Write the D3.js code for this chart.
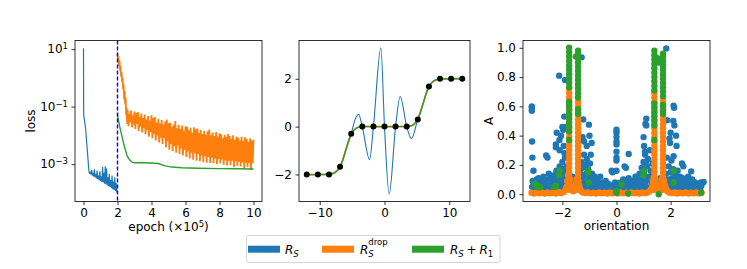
<!DOCTYPE html>
<html><head><meta charset="utf-8">
<script src="https://cdn.jsdelivr.net/npm/d3@7"></script>
<style>body{margin:0;background:#fff}svg{display:block}text{font-family:"DejaVu Sans",sans-serif}</style>
</head><body><svg id="c" width="747" height="269"></svg>
<script>
// ---------- data: panel 1 (loss vs epoch, x in 1e5) ----------
const blueLoss = [[0,10.7],[0.01,0.05],[0.04,0.04],[0.13,0.016],[0.32,5.6e-4],[0.36,4.8e-4],[0.40,5.2e-4],[0.44,4.4e-4],[0.48,6.3e-4],[0.52,4.0e-4],[0.56,5.0e-4],[0.60,3.7e-4],[0.64,6.6e-4],[0.68,3.5e-4],[0.72,4.5e-4],[0.76,3.2e-4],[0.80,6.0e-4],[0.84,3.0e-4],[0.88,4.0e-4],[0.92,2.75e-4],[0.96,5.6e-4],[1.00,2.6e-4],[1.04,3.8e-4],[1.08,2.4e-4],[1.12,7.9e-4],[1.16,2.3e-4],[1.20,5.0e-4],[1.24,2.1e-4],[1.28,8.5e-4],[1.32,2.0e-4],[1.36,7.1e-4],[1.40,1.8e-4],[1.44,3.5e-4],[1.48,1.7e-4],[1.52,4.5e-4],[1.56,1.6e-4],[1.60,2.8e-4],[1.64,1.45e-4],[1.68,4.0e-4],[1.72,1.35e-4],[1.76,2.5e-4],[1.80,1.26e-4],[1.84,3.5e-4],[1.88,1.17e-4],[1.92,2.2e-4],[1.96,1.1e-4],[2.0,1.05e-4]];
// orange: early descent (epoch, loss) then a noisy band sampled every 0.05 from epoch 2.6 (log10 of loss)
const orangeLossEarly = [[2.0,7.2],[2.03,3.5],[2.06,5.5],[2.09,2.6],[2.12,4.0],[2.15,1.8],[2.18,2.6],[2.21,1.1],[2.24,1.6],[2.27,0.7],[2.3,1.0],[2.33,0.4],[2.36,0.6],[2.39,0.18],[2.42,0.35],[2.45,0.12],[2.48,0.2],[2.51,0.05],[2.54,0.09],[2.57,0.025]];
const orangeBandStart = 2.6, orangeBandStep = 0.05;
const orangeBandLog10 = [
-1.12,-1.68,-1.25,-1.55,-1.14,-1.72,-1.30,-1.62,-1.17,-1.78,
-1.22,-1.60,-1.19,-1.85,-1.35,-1.70,-1.24,-1.90,-1.40,-1.75,
-1.28,-1.96,-1.45,-1.80,-1.33,-2.05,-1.50,-1.88,-1.30,-2.10,
-1.40,-1.95,-1.36,-2.18,-1.55,-2.00,-1.42,-2.25,-1.60,-2.08,
-1.47,-2.30,-1.62,-2.10,-1.52,-2.42,-1.45,-2.20,-1.58,-2.50,
-1.56,-2.30,-1.70,-2.55,-1.62,-2.38,-1.50,-2.60,-1.75,-2.35,
-1.63,-2.65,-1.78,-2.45,-1.66,-2.70,-1.85,-2.50,-1.68,-2.75,
-1.70,-2.55,-1.82,-2.80,-1.74,-2.60,-1.90,-2.85,-1.72,-2.62,
-1.80,-2.88,-1.76,-2.65,-1.92,-2.90,-1.81,-2.70,-1.95,-2.93,
-1.84,-2.72,-1.98,-2.95,-1.86,-2.75,-1.80,-2.96,-2.00,-2.78,
-1.90,-2.97,-2.02,-2.80,-1.88,-3.00,-2.05,-2.82,-1.93,-2.98,
-1.96,-2.84,-2.10,-3.02,-1.98,-2.86,-2.06,-3.05,-1.95,-2.88,
-2.02,-3.04,-2.12,-2.88,-2.00,-3.10,-2.15,-2.90,-2.04,-3.06,
-2.08,-2.92,-2.18,-3.08,-2.05,-2.94,-2.20,-3.15,-2.07,-2.95,
-2.12,-3.10,-2.22,-2.96,-2.10,-3.20,-2.18,-2.98,-2.15];
const greenLoss = [[2.0,0.06],[2.01,0.046],[2.15,0.018],[2.38,0.0047],[2.57,0.0019],[2.72,0.0014],[2.87,0.00117],[3.0,0.00112],[3.5,0.00111],[4.0,0.0011],[4.4,0.00105],[4.8,0.00087],[5.2,0.00079],[5.8,0.00075],[6.75,0.00072],[8.0,0.0007],[9.0,0.00069],[10.0,0.00068]];
const switchEpoch = 2;
const p1XTicks = [0,2,4,6,8,10];
const p1YTicks = [10,0.1,0.001];
const p1YTickExp = ["1","\u22121","\u22123"];

// ---------- data: panel 2 (fits) ----------
const dotsX = [-12,-10.29,-8.57,-6.86,-5.14,-3.43,-1.71,0,1.71,3.43,5.14,6.86,8.57,10.29,12];
const dotsY = [-2,-2,-2,-1.68,-0.3,0,0,0,0,0,0.3,1.68,2,2,2];
const smoothX = [-12,-11,-10.29,-9.5,-8.57,-8,-7.5,-6.86,-6.5,-6,-5.5,-5.14,-4.7,-4.3,-3.9,-3.43,-2.5,-1.71,0,1.71,2.5,3.43,3.9,4.3,4.7,5.14,5.5,6,6.5,6.86,7.5,8,8.57,9.5,10.29,11,12];
const orangeFitY = [-2.01,-2.01,-2.01,-2.0,-1.99,-1.95,-1.87,-1.67,-1.44,-1.0,-0.56,-0.31,-0.15,-0.06,-0.02,0,0.01,0,0,0,0.01,0,0.02,0.06,0.15,0.31,0.56,1.0,1.44,1.67,1.87,1.95,1.99,2.0,2.01,2.01,2.01];
const greenFitY = [-2,-2,-2,-2,-2,-1.97,-1.9,-1.68,-1.45,-1.0,-0.55,-0.31,-0.14,-0.05,-0.015,0,0,0,0,0,0,0,0.015,0.05,0.14,0.31,0.55,1.0,1.45,1.68,1.9,1.97,2,2,2,2,2];
const blueFitX = [-12,-10.29,-8.57,-7.7,-6.86,-6.0,-5.14,-4.6,-4.0,-3.43,-2.3,-1.71,-0.56,0,0.72,1.71,2.42,3.43,4.15,5.14,6.0,6.86,7.7,8.57,10.29,12];
const blueFitY = [-2,-2,-2,-1.92,-1.68,-1.0,-0.31,0.25,0.51,0,-1.38,0,3.29,0,-2.82,0,1.26,0,-0.5,0.31,1.0,1.68,1.92,2,2,2];
const p2XTicks = [-10,0,10];
const p2YTicks = [-2,0,2];

// ---------- data: panel 3 (A vs orientation) ----------
const blueScatter = [
[-3.12,0.05],[-3.05,0.08],[-3.0,0.04],[-2.95,0.10],[-2.9,0.06],[-2.85,0.03],[-2.8,0.09],[-2.75,0.05],[-2.7,0.12],[-2.65,0.07],[-2.6,0.04],[-2.55,0.10],[-2.5,0.14],[-2.45,0.06],[-2.4,0.11],[-2.35,0.08],[-2.3,0.13],[-2.27,0.04],[-2.22,0.16],[-2.2,0.09],[-2.15,0.12],[-2.1,0.19],[-2.07,0.06],[-2.05,0.14],[-2.0,0.22],[-1.98,0.10],[-1.95,0.17],[-1.92,0.08],[-1.9,0.25],[-1.88,0.13],[-1.85,0.19],[-1.82,0.05],[-1.7,0.08],[-1.65,0.05],[-1.6,0.10],[-1.55,0.06],[-1.5,0.09],[-1.38,0.07],[-1.35,0.15],[-1.32,0.10],[-1.3,0.22],[-1.27,0.05],[-1.25,0.18],[-1.22,0.12],[-1.2,0.27],[-1.17,0.08],[-1.15,0.20],[-1.12,0.14],[-1.1,0.24],[-1.07,0.06],[-1.05,0.17],[-1.0,0.11],[-0.98,0.21],[-0.95,0.07],[-0.9,0.14],[-0.85,0.09],[-0.8,0.12],[-0.75,0.05],[-0.7,0.10],[-0.65,0.07],[-0.6,0.12],[-0.55,0.04],[-0.5,0.08],[-0.45,0.05],[-0.4,0.09],[-0.35,0.04],[-0.3,0.07],[-0.25,0.03],[-0.2,0.06],[-0.1,0.05],[-0.05,0.08],[0.05,0.06],[0.1,0.04],[0.15,0.08],[0.2,0.05],[0.25,0.10],[0.3,0.06],[0.35,0.09],[0.4,0.04],[0.45,0.11],[0.5,0.07],[0.55,0.05],[0.6,0.09],[0.65,0.06],[0.7,0.12],[0.75,0.08],[0.8,0.05],[0.85,0.14],[0.9,0.10],[0.93,0.18],[0.97,0.07],[1.0,0.22],[1.03,0.13],[1.06,0.27],[1.1,0.09],[1.13,0.19],[1.16,0.24],[1.2,0.12],[1.23,0.30],[1.26,0.16],[1.3,0.08],[1.33,0.21],[1.5,0.06],[1.55,0.09],[1.6,0.05],[1.65,0.08],[1.8,0.07],[1.83,0.14],[1.86,0.25],[1.9,0.10],[1.93,0.19],[1.96,0.06],[2.0,0.15],[2.03,0.23],[2.06,0.11],[2.1,0.17],[2.14,0.07],[2.18,0.13],[2.22,0.09],[2.26,0.16],[2.3,0.05],[2.35,0.12],[2.4,0.08],[2.45,0.11],[2.5,0.04],[2.55,0.09],[2.6,0.06],[2.65,0.12],[2.7,0.07],[2.75,0.04],[2.8,0.10],[2.85,0.06],[2.9,0.08],[2.95,0.04],[3.0,0.07],[3.05,0.05],[3.1,0.03],[3.14,0.06],
[-3.1,0.09],[-2.98,0.07],[-2.88,0.11],[-2.78,0.03],[-2.68,0.09],[-2.58,0.07],[-2.48,0.04],[-2.38,0.05],[-2.28,0.10],[-2.18,0.05],[-2.12,0.09],[-2.02,0.05],[-1.96,0.13],[-1.88,0.04],[-1.62,0.12],[-1.52,0.03],[-1.34,0.04],[-1.24,0.08],[-1.14,0.04],[-1.04,0.09],[-0.94,0.04],[-0.84,0.06],[-0.72,0.03],[-0.62,0.05],[-0.42,0.07],[-0.15,0.03],[0.0,0.03],[0.12,0.07],[0.32,0.03],[0.52,0.04],[0.72,0.03],[0.82,0.09],[0.95,0.04],[1.05,0.06],[1.15,0.04],[1.25,0.05],[1.35,0.12],[1.62,0.11],[1.88,0.04],[1.98,0.09],[2.08,0.04],[2.2,0.05],[2.32,0.08],[2.42,0.04],[2.52,0.07],[2.62,0.03],[2.72,0.09],[2.82,0.03],[2.92,0.06],[3.02,0.03],[3.12,0.08],
[-3.13,0.60],[-3.13,0.59],[-3.13,0.57],[-3.12,0.36],[-3.11,0.25],[-3.07,0.16],[-2.6,0.265],[-2.55,0.25],[-2.24,0.32],[-2.24,0.34],[-2.21,0.42],[-2.12,0.81],[-2.11,0.37],[-2.1,0.30],[-2.05,0.40],[-2.0,0.46],[-1.97,0.44],[-1.93,0.53],[-1.9,0.78],[-1.88,0.46],[-1.95,0.33],[-1.92,0.28],[-1.29,0.935],[-1.25,0.39],[-1.23,0.51],[-1.2,0.36],[-1.1,0.33],[-1.02,0.475],[-1.0,0.40],[-0.95,0.27],[-0.92,0.35],[-0.18,0.16],[0.0,0.44],[0.0,0.42],[0.0,0.39],[0.0,0.36],[0.0,0.34],[0.0,0.29],[0.0,0.25],[0.0,0.23],[0.0,0.16],[0.45,0.275],[0.3,0.19],[0.35,0.18],[1.0,0.39],[1.02,0.33],[1.07,0.48],[1.1,0.516],[1.1,0.47],[1.05,0.29],[1.08,0.22],[1.84,0.996],[1.87,0.505],[1.98,0.35],[2.0,0.42],[1.96,0.38],[2.11,0.604],[2.13,0.59],[2.14,0.47],[2.1,0.50],[2.2,0.40],[2.22,0.33],[2.11,0.26],[2.42,0.21],[2.47,0.19],[2.76,0.156],[3.22,0.083],[-0.15,0.15]];
const orangeScatter = [
[-3.14,0.01],[-3.05,0.005],[-2.95,0.012],[-2.85,0.006],[-2.75,0.01],[-2.65,0.004],[-2.55,0.011],[-2.45,0.006],[-2.35,0.01],[-2.25,0.005],[-2.15,0.013],[-2.05,0.007],[-1.95,0.015],[-1.88,0.03],[-1.85,0.05],[-1.82,0.09],[-1.79,0.13],[-1.72,0.1],[-1.68,0.06],[-1.64,0.035],[-1.6,0.02],[-1.55,0.04],[-1.51,0.07],[-1.48,0.1],[-1.41,0.09],[-1.38,0.06],[-1.34,0.035],[-1.3,0.02],[-1.25,0.012],[-1.15,0.008],[-1.05,0.012],[-0.95,0.006],[-0.85,0.01],[-0.75,0.005],[-0.65,0.011],[-0.55,0.006],[-0.45,0.01],[-0.35,0.005],[-0.25,0.012],[-0.15,0.006],[-0.05,0.01],[0.05,0.005],[0.15,0.011],[0.25,0.006],[0.35,0.01],[0.45,0.005],[0.55,0.012],[0.65,0.006],[0.75,0.01],[0.85,0.005],[0.95,0.011],[1.05,0.007],[1.15,0.012],[1.22,0.02],[1.27,0.03],[1.31,0.05],[1.34,0.08],[1.37,0.11],[1.44,0.1],[1.48,0.07],[1.52,0.04],[1.56,0.025],[1.6,0.03],[1.64,0.06],[1.67,0.1],[1.76,0.09],[1.8,0.06],[1.84,0.035],[1.88,0.02],[1.95,0.012],[2.05,0.007],[2.15,0.011],[2.25,0.005],[2.35,0.01],[2.45,0.006],[2.55,0.012],[2.65,0.005],[2.75,0.01],[2.85,0.006],[2.95,0.011],[3.05,0.005],[3.14,0.01]];
const orangeColTheta = [-1.75,-1.42,1.40,1.72];
const orangeColA = [
[0.03,0.06,0.09,0.12,0.15,0.18,0.21,0.24,0.27,0.30,0.33,0.36,0.39,0.42,0.45,0.48,0.51,0.54,0.57,0.60,0.63,0.66,0.69,0.72],
[0.03,0.06,0.09,0.12,0.15,0.18,0.21,0.24,0.27,0.30,0.33,0.36,0.39,0.42,0.45,0.48,0.51,0.54,0.57,0.60,0.63],
[0.03,0.06,0.09,0.12,0.15,0.18,0.21,0.24,0.27,0.30,0.33,0.36,0.39,0.42,0.45,0.48,0.51,0.54,0.57,0.60,0.63,0.66,0.69],
[0.03,0.06,0.09,0.12,0.15,0.18,0.21,0.24,0.27,0.30,0.33,0.36,0.39,0.42,0.45,0.48,0.51,0.54,0.57,0.60,0.63,0.66]];
const greenColTheta = [-1.75,-1.42,1.40,1.72];
const greenColA = [
[0.37,0.43,0.46,0.49,0.52,0.55,0.58,0.61,0.63,0.73,0.76,0.79,0.82,0.85,0.88,0.91,0.94,0.97,1.0],
[0.55,0.58,0.66,0.69,0.72,0.75,0.78,0.81,0.84,0.87,0.90,0.93,0.96,0.98],
[0.37,0.47,0.50,0.53,0.56,0.59,0.62,0.71,0.74,0.77,0.80,0.83,0.86,0.89,0.92,0.95,0.98],
[0.55,0.58,0.61,0.67,0.70,0.73,0.76,0.79,0.82,0.85,0.88,0.91,0.94,0.96]];
const greenScatter = [[-3.01,0.07],[-2.95,0.06],[-2.87,0.045],[-2.83,0.05],[-2.3,0.05],[-2.24,0.06],[-2.12,0.13],[-2.1,0.16],[-1.05,0.15],[-1.04,0.16],[-1.03,0.08],[0.0,0.01],[0.0,0.02],[0.18,0.07],[0.43,0.005],[1.0,0.13],[1.02,0.16],[1.56,0.0],[2.11,0.16],[2.11,0.08],[3.13,0.01],[-1.5,0.94],[1.5,0.93],[1.56,0.9],[1.62,0.92]];
const p3XTicks = [-2,0,2];
const p3YTicks = [0,0.2,0.4,0.6,0.8,1.0];

const C = {blue:"#1f77b4", orange:"#ff7f0e", green:"#2ca02c"};

// ---------- layout ----------
const svg = d3.select("#c");
const pTop = 40.5, pBot = 201.5;
const x1 = d3.scaleLinear([-0.5,10.5],[75,262]);
const y1 = d3.scaleLog([Math.pow(10,-4.3), Math.pow(10,1.3)],[pBot,pTop]);
const x2 = d3.scaleLinear([-13.2,13.2],[299,470]);
const y2 = d3.scaleLinear([-3.13,3.6],[pBot,pTop]);
const x3 = d3.scaleLinear([-3.456,3.456],[523,710]);
const y3 = d3.scaleLinear([-0.05,1.05],[pBot,pTop]);
const minus = s => String(s).replace("-", "\u2212");

function clip(id, xs){
  svg.append("clipPath").attr("id",id).append("rect")
    .attr("x",xs.range()[0]).attr("y",pTop).attr("width",xs.range()[1]-xs.range()[0]).attr("height",pBot-pTop);
}
clip("c1",x1); clip("c2",x2); clip("c3",x3);

function axes(xs, ys, xt, yt, xf, yf){
  const gx = svg.append("g").attr("transform",`translate(0,${pBot})`)
    .call(d3.axisBottom(xs).tickValues(xt).tickSize(3.5).tickPadding(3.5).tickFormat(xf));
  const gy = svg.append("g").attr("transform",`translate(${xs.range()[0]},0)`)
    .call(d3.axisLeft(ys).tickValues(yt).tickSize(3.5).tickPadding(3.5).tickFormat(yf));
  [gx,gy].forEach(g=>{
    g.select(".domain").remove();
    g.attr("font-family","DejaVu Sans").attr("font-size",12);
    g.selectAll("line").attr("stroke","#000").attr("stroke-width",0.8);
    g.selectAll("text").attr("fill","#000");
  });
  svg.append("rect").attr("x",xs.range()[0]).attr("y",pTop)
    .attr("width",xs.range()[1]-xs.range()[0]).attr("height",pBot-pTop)
    .attr("fill","none").attr("stroke","#000").attr("stroke-width",0.8);
  return gy;
}

// ---------- panel 1 ----------
const g1 = svg.append("g").attr("clip-path","url(#c1)");
const line1 = d3.line().x(d=>x1(d[0])).y(d=>y1(d[1]));
const orangeLoss = orangeLossEarly.concat(orangeBandLog10.map((v,i)=>[orangeBandStart+orangeBandStep*i, Math.pow(10,v)]));
g1.append("path").datum(blueLoss).attr("d",line1).attr("fill","none").attr("stroke",C.blue).attr("stroke-width",1.2);
g1.append("path").datum(orangeLoss).attr("d",line1).attr("fill","none").attr("stroke",C.orange).attr("stroke-width",1.8).attr("stroke-linejoin","bevel");
g1.append("path").datum(greenLoss).attr("d",line1).attr("fill","none").attr("stroke",C.green).attr("stroke-width",1.4);
g1.append("line").attr("x1",x1(switchEpoch)).attr("x2",x1(switchEpoch)).attr("y1",pTop).attr("y2",pBot)
  .attr("stroke","#0000ff").attr("stroke-width",1.4).attr("stroke-dasharray","4,2");
const gy1 = axes(x1,y1,p1XTicks,p1YTicks,d=>d,()=> "");
gy1.selectAll(".tick text").each(function(d,i){
  const t = d3.select(this);
  t.text("10");
  t.append("tspan").attr("dy","-0.5em").attr("font-size",8.5).text(p1YTickExp[i]);
});
svg.append("text").attr("transform","translate(35,121) rotate(-90)").attr("text-anchor","middle")
  .attr("font-size",12).text("loss");
const xl = svg.append("text").attr("x",168.5).attr("y",231).attr("text-anchor","middle").attr("font-size",12);
xl.append("tspan").text("epoch (\u00d710");
xl.append("tspan").attr("dy",-4.5).attr("font-size",8.5).text("5");
xl.append("tspan").attr("dy",4.5).text(")");

// ---------- panel 2 ----------
const g2 = svg.append("g").attr("clip-path","url(#c2)");
const line2 = d3.line().curve(d3.curveMonotoneX).x(d=>x2(d[0])).y(d=>y2(d[1]));
g2.append("path").datum(d3.zip(blueFitX,blueFitY)).attr("d",line2).attr("fill","none").attr("stroke",C.blue).attr("stroke-width",1.1);
g2.append("path").datum(d3.zip(smoothX,orangeFitY)).attr("d",line2).attr("fill","none").attr("stroke",C.orange).attr("stroke-width",1.6);
g2.append("path").datum(d3.zip(smoothX,greenFitY)).attr("d",line2).attr("fill","none").attr("stroke",C.green).attr("stroke-width",1.4);
g2.selectAll("circle").data(d3.zip(dotsX,dotsY)).join("circle")
  .attr("cx",d=>x2(d[0])).attr("cy",d=>y2(d[1])).attr("r",3).attr("fill","#000");
axes(x2,y2,p2XTicks,p2YTicks,minus,minus);

// ---------- panel 3 ----------
const g3 = svg.append("g").attr("clip-path","url(#c3)");
const R = 3.2;
function dots(data, color){
  g3.append("g").selectAll("circle").data(data).join("circle")
    .attr("cx",d=>x3(d[0])).attr("cy",d=>y3(d[1])).attr("r",R).attr("fill",color);
}
const colPts = (thetas, As) => thetas.flatMap((t,i)=>As[i].map(a=>[t,a]));
dots(blueScatter, C.blue);
dots(orangeScatter.concat(colPts(orangeColTheta,orangeColA)), C.orange);
dots(greenScatter.concat(colPts(greenColTheta,greenColA)), C.green);
axes(x3,y3,p3XTicks,p3YTicks,minus,d=>d3.format(".1f")(d));
svg.append("text").attr("transform","translate(493,121) rotate(-90)").attr("text-anchor","middle")
  .attr("font-size",12).text("A");
svg.append("text").attr("x",616.5).attr("y",230).attr("text-anchor","middle").attr("font-size",12).text("orientation");

// ---------- legend ----------
const lg = svg.append("g");
lg.append("rect").attr("x",246.5).attr("y",235.5).attr("width",253.5).attr("height",27).attr("rx",2.5)
  .attr("fill","#fff").attr("stroke","#cccccc").attr("stroke-width",0.8);
function measure(str, size, italic){
  const t = lg.append("text").attr("font-size",size).attr("font-style",italic?"italic":"normal").text(str);
  const w = t.node().getComputedTextLength(); t.remove(); return w;
}
function mathText(x, y, parts){
  const t = lg.append("text").attr("x",x).attr("y",y).attr("font-size",12);
  let curDy = 0;
  parts.forEach(p=>{
    const target = p.dy||0;
    const s = t.append("tspan").attr("dy",target-curDy).attr("font-size",p.size||12)
      .attr("font-style",p.it?"italic":"normal").text(p.t);
    if(p.dx) s.attr("dx",p.dx);
    curDy = target;
  });
}
const wS = measure("S",8.5,true);
const legendItems = [
  {color:C.blue, px:248, tx:285, parts:[{t:"R",it:true},{t:"S",it:true,size:8.5,dy:3.2}]},
  {color:C.orange, px:322, tx:360, parts:[{t:"R",it:true},{t:"S",it:true,size:8.5,dy:3.2},{t:"drop",size:8.5,dy:-8.3,dx:-wS}]},
  {color:C.green, px:412, tx:450, parts:[{t:"R",it:true},{t:"S",it:true,size:8.5,dy:3.2},{t:"+",dx:2.8},{t:"R",it:true,dx:2.8},{t:"1",size:8.5,dy:3.2}]}
];
legendItems.forEach(it=>{
  lg.append("rect").attr("x",it.px).attr("y",245.7).attr("width",32).attr("height",7).attr("fill",it.color);
  mathText(it.tx, 253.5, it.parts);
});
</script></body></html>
